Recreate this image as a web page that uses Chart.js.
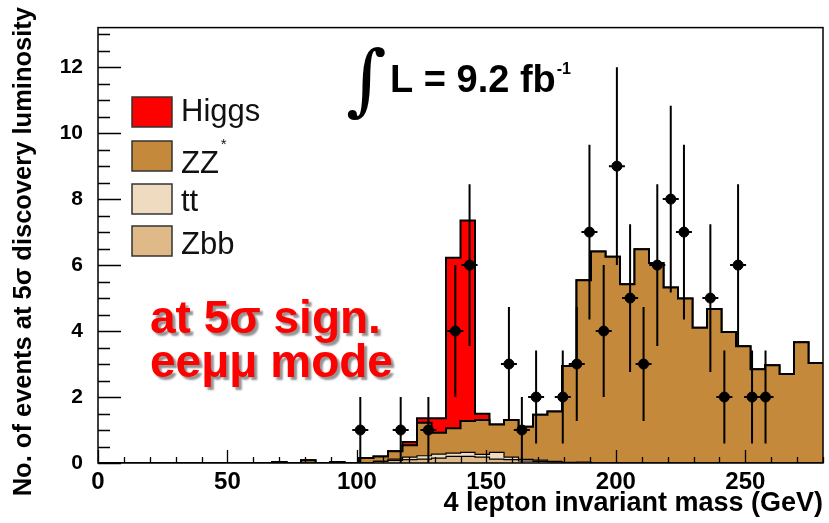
<!DOCTYPE html>
<html>
<head>
<meta charset="utf-8">
<script src="https://cdn.jsdelivr.net/npm/chart.js@4.4.0/dist/chart.umd.min.js"></script>
<style>
  html, body { margin: 0; padding: 0; background: #fff; }
  #wrap { width: 829px; height: 523px; position: relative; }
</style>
</head>
<body>
<div id="wrap"><canvas id="massChart"></canvas></div>
<script>
// histogram bins (low edges, GeV), 5.6 GeV wide, 0 - 280
const binLow = [0, 5.6, 11.2, 16.8, 22.4, 28, 33.6, 39.2, 44.8, 50.4,
  56, 61.6, 67.2, 72.8, 78.4, 84, 89.6, 95.2, 100.8, 106.4,
  112, 117.6, 123.2, 128.8, 134.4, 140, 145.6, 151.2, 156.8, 162.4,
  168, 173.6, 179.2, 184.8, 190.4, 196, 201.6, 207.2, 212.8, 218.4,
  224, 229.6, 235.2, 240.8, 246.4, 252, 257.6, 263.2, 268.8, 274.4];
const massMax = 280;

// expected events per bin (stacked in this order: Zbb, tt, ZZ*, Higgs)
const zbb = [0, 0, 0, 0, 0, 0, 0, 0, 0, 0,
  0, 0, 0, 0, 0, 0, 0, 0, 0, 0.05,
  0.08, 0.10, 0.12, 0.15, 0.20, 0.20, 0.18, 0.12, 0.10, 0.06,
  0.05, 0.03, 0, 0, 0, 0, 0, 0, 0, 0,
  0, 0, 0, 0, 0, 0, 0, 0, 0, 0];
const ttbar = [0, 0, 0, 0, 0, 0, 0, 0, 0, 0,
  0, 0, 0, 0, 0, 0, 0, 0, 0, 0,
  0.04, 0.08, 0.10, 0.12, 0.10, 0.12, 0.08, 0.20, 0.08, 0.05,
  0.04, 0.02, 0.02, 0.03, 0, 0, 0, 0, 0, 0,
  0, 0, 0, 0, 0, 0, 0, 0, 0, 0];
const zz = [0, 0, 0, 0, 0, 0, 0, 0, 0, 0,
  0, 0, 0.03, 0, 0.08, 0, 0.03, 0, 0.15, 0.15,
  0.24, 0.36, 1.00, 0.65, 0.75, 0.95, 1.04, 0.85, 1.12, 0.99,
  1.37, 1.51, 2.92, 5.51, 6.41, 6.25, 5.42, 6.48, 6.06, 5.32,
  4.99, 4.10, 4.67, 3.97, 3.54, 2.84, 2.96, 2.70, 3.66, 3.03];
const higgs = [0, 0, 0, 0, 0, 0, 0, 0, 0, 0,
  0, 0, 0, 0, 0, 0, 0, 0, 0, 0,
  0, 0.10, 0.14, 0.44, 5.17, 6.08, 0.19, 0, 0, 0,
  0, 0, 0, 0, 0, 0, 0, 0, 0, 0,
  0, 0, 0, 0, 0, 0, 0, 0, 0, 0];

// pseudo-data points
const dataMass = [101.3, 116.9, 127.6, 138.0, 143.5, 158.7, 163.7, 169.2, 179.5, 184.9, 189.8, 195.3,
  200.4, 205.5, 210.7, 216.0, 221.2, 226.3, 236.5, 241.9, 247.2, 252.6, 257.8];
const dataEvents = [1, 1, 1, 4, 6, 3, 1, 2, 2, 3, 7, 4, 9, 5, 3, 6, 8, 7, 5, 2, 6, 2, 2];
const dataErr = [1, 1, 1, 2, 2.45, 1.73, 1, 1.41, 1.41, 1.73, 2.65, 2, 3, 2.24, 1.73, 2.45, 2.83, 2.65,
  2.24, 1.41, 2.45, 1.41, 1.41];

const xTicks = [0, 50, 100, 150, 200, 250];
const yTicks = [0, 2, 4, 6, 8, 10, 12];
const legendItems = [
  { label: 'Higgs', sup: '', color: '#ff0000' },
  { label: 'ZZ', sup: '*', color: '#c4893a' },
  { label: 'tt', sup: '', color: '#efdcc0' },
  { label: 'Zbb', sup: '', color: '#dfba88' }
];

const FONT = "'Liberation Sans', Arial, sans-serif";
Chart.defaults.font.family = FONT;
Chart.defaults.color = '#000';

function steps(values) {
  const pts = binLow.map((x, i) => ({ x: x, y: values[i] }));
  pts.push({ x: massMax, y: values[values.length - 1] });
  return pts;
}

function histSet(label, values, color, width) {
  return {
    label: label,
    data: steps(values),
    stepped: true,
    fill: 'origin',
    backgroundColor: color,
    borderColor: '#000',
    borderWidth: width,
    pointRadius: 0,
    stack: 'mc'
  };
}

const decor = {
  id: 'decor',
  afterDatasetsDraw(chart) {
    const { ctx, chartArea: a, scales: { x, y } } = chart;
    ctx.save();
    ctx.strokeStyle = '#000';
    // error bars
    ctx.lineWidth = 2;
    dataMass.forEach((m, i) => {
      const px = x.getPixelForValue(m);
      const py = y.getPixelForValue(dataEvents[i]);
      ctx.beginPath();
      ctx.moveTo(px, y.getPixelForValue(Math.max(0, dataEvents[i] - dataErr[i])));
      ctx.lineTo(px, y.getPixelForValue(dataEvents[i] + dataErr[i]));
      ctx.moveTo(px - 8, py);
      ctx.lineTo(px + 8, py);
      ctx.stroke();
    });
    // inward ticks
    ctx.lineWidth = 1.3;
    ctx.beginPath();
    for (let v = 0; v <= 13.2; v += 0.5) {
      const py = Math.round(y.getPixelForValue(v)) + 0.5;
      const len = yTicks.includes(v) ? 23 : 12;
      ctx.moveTo(a.left, py);
      ctx.lineTo(a.left + len, py);
    }
    for (let v = 0; v <= massMax; v += 10) {
      const px = Math.round(x.getPixelForValue(v)) + 0.5;
      const len = xTicks.includes(v) ? 13 : 6;
      ctx.moveTo(px, a.bottom);
      ctx.lineTo(px, a.bottom - len);
    }
    ctx.stroke();
    // frame
    ctx.lineWidth = 1.5;
    ctx.strokeRect(a.left, a.top, a.right - a.left, a.bottom - a.top);
    ctx.restore();
  },
  afterDraw(chart) {
    const { ctx } = chart;
    ctx.save();
    // y axis title
    ctx.save();
    ctx.translate(24, 7);
    ctx.rotate(-Math.PI / 2);
    ctx.font = 'bold 25.5px ' + FONT;
    ctx.textAlign = 'right';
    ctx.textBaseline = 'middle';
    ctx.fillStyle = '#000';
    ctx.fillText('No. of events at 5\u03c3 discovery luminosity', 0, 0);
    ctx.restore();

    // legend
    ctx.textAlign = 'left';
    ctx.textBaseline = 'alphabetic';
    const boxTop = [97, 141, 184, 226];
    const baseLine = [121, 173, 211, 254];
    legendItems.forEach((it, i) => {
      ctx.fillStyle = it.color;
      ctx.fillRect(132, boxTop[i], 40, 30);
      ctx.strokeStyle = '#333';
      ctx.lineWidth = 1.5;
      ctx.strokeRect(132, boxTop[i], 40, 30);
      ctx.fillStyle = '#111';
      ctx.font = '31px ' + FONT;
      ctx.fillText(it.label, 181, baseLine[i]);
      if (it.sup) {
        const w = ctx.measureText(it.label).width;
        ctx.font = '15px ' + FONT;
        ctx.fillText(it.sup, 181 + w + 2, baseLine[i] - 24);
      }
    });

    // luminosity label
    ctx.fillStyle = '#000';
    ctx.font = '78px "DejaVu Serif", serif';
    ctx.fillText('\u222b', 346, 106);
    ctx.font = 'bold 38px ' + FONT;
    ctx.fillText('L = 9.2 fb', 390, 92);
    const lw = ctx.measureText('L = 9.2 fb').width;
    ctx.font = 'bold 16px ' + FONT;
    ctx.fillText('-1', 390 + lw + 1, 74);

    // red note with shadow
    ctx.font = 'bold 46px ' + FONT;
    ctx.shadowColor = 'rgba(120,120,120,0.8)';
    ctx.shadowOffsetX = 3;
    ctx.shadowOffsetY = 3;
    ctx.shadowBlur = 2;
    ctx.fillStyle = '#ff0000';
    ctx.fillText('at 5\u03c3 sign.', 150, 333);
    ctx.fillText('ee\u03bc\u03bc mode', 150, 377);
    ctx.restore();
  }
};

const ctx = document.getElementById('massChart').getContext('2d');
const massChart = new Chart(ctx, {
  type: 'line',
  data: {
    datasets: [
      histSet('Zbb', zbb, '#dfba88', 1.2),
      histSet('tt', ttbar, '#efdcc0', 1.2),
      histSet('ZZ*', zz, '#c4893a', 2),
      histSet('Higgs', higgs, '#ff0000', 2),
      {
        label: 'data',
        data: dataMass.map((m, i) => ({ x: m, y: dataEvents[i] })),
        showLine: false,
        fill: false,
        pointRadius: 5,
        pointStyle: 'circle',
        pointBackgroundColor: '#000',
        pointBorderColor: '#000',
        stack: 'data',
        order: -1
      }
    ]
  },
  options: {
    responsive: true,
    maintainAspectRatio: false,
    animation: false,
    layout: { padding: { top: 7, right: 1, left: 0, bottom: 0 } },
    plugins: {
      legend: { display: false },
      tooltip: { enabled: false }
    },
    scales: {
      x: {
        type: 'linear',
        min: 0,
        max: massMax,
        grid: { display: false, drawTicks: false },
        border: { display: false },
        afterBuildTicks: s => { s.ticks = xTicks.map(v => ({ value: v })); },
        afterFit: s => { s.height = 60; },
        ticks: {
          maxRotation: 0,
          autoSkip: false,
          padding: 5,
          font: { size: 24, weight: 'bold' },
          color: '#000'
        },
        title: {
          display: true,
          text: '4 lepton invariant mass (GeV)',
          align: 'end',
          font: { size: 27, weight: 'bold' },
          color: '#000',
          padding: { top: 0, bottom: 3 }
        }
      },
      y: {
        stacked: true,
        min: 0,
        max: 13.2,
        grid: { display: false, drawTicks: false },
        border: { display: false },
        afterBuildTicks: s => { s.ticks = yTicks.map(v => ({ value: v })); },
        afterFit: s => { s.width = 98; },
        ticks: {
          padding: 15,
          font: { size: 21, weight: 'bold' },
          color: '#000'
        }
      }
    }
  },
  plugins: [decor]
});
</script>
</body>
</html>
